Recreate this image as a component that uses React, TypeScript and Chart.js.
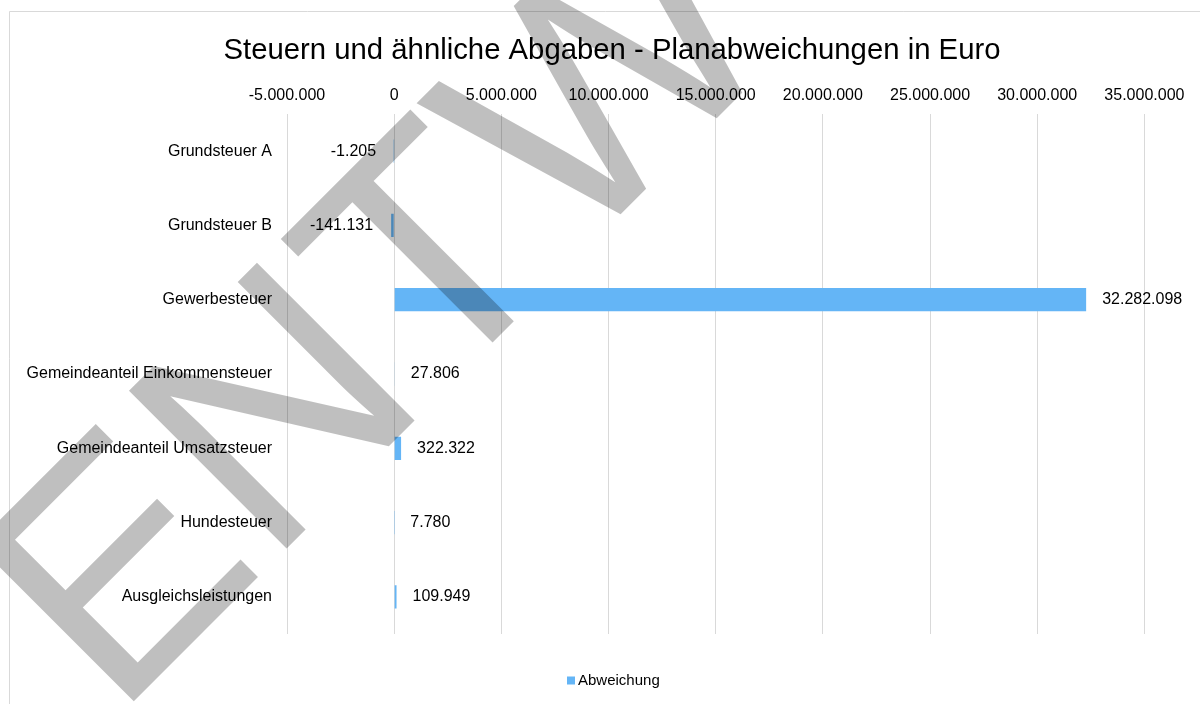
import React, { useEffect, useRef } from "react";
import { Chart, registerables } from "chart.js";

Chart.register(...registerables);

const chartTitle = "Steuern und ähnliche Abgaben - Planabweichungen in Euro";
const categories = [
  "Grundsteuer A",
  "Grundsteuer B",
  "Gewerbesteuer",
  "Gemeindeanteil Einkommensteuer",
  "Gemeindeanteil Umsatzsteuer",
  "Hundesteuer",
  "Ausgleichsleistungen",
];
const seriesLabel = "Abweichung";
const abweichung = [-1205, -141131, 32282098, 27806, 322322, 7780, 109949];
const axisMin = -5000000;
const axisMax = 35000000;
const axisStep = 5000000;
const watermarkText = "ENTWURF";

const FONT = '"Liberation Sans", Arial, Helvetica, sans-serif';
const BAR_COLOR = "#64B5F6";

function fmt(v: number): string {
  const s = Math.abs(Math.round(v))
    .toString()
    .replace(/\B(?=(\d{3})+(?!\d))/g, ".");
  return (v < 0 ? "-" : "") + s;
}

const framePlugin = {
  id: "frame",
  beforeDraw(chart: any) {
    const ctx = chart.ctx;
    ctx.save();
    ctx.fillStyle = "#ffffff";
    ctx.fillRect(0, 0, chart.width, chart.height);
    ctx.strokeStyle = "#d9d9d9";
    ctx.lineWidth = 1;
    ctx.beginPath();
    ctx.moveTo(9.5, chart.height + 5);
    ctx.lineTo(9.5, 11.5);
    ctx.lineTo(chart.width + 5, 11.5);
    ctx.stroke();
    ctx.restore();
  },
};

const titlePlugin = {
  id: "customTitle",
  afterDraw(chart: any) {
    const ctx = chart.ctx;
    ctx.save();
    ctx.font = `29.3px ${FONT}`;
    ctx.fillStyle = "#000000";
    ctx.textAlign = "center";
    ctx.textBaseline = "alphabetic";
    ctx.fillText(chartTitle, 612, 58.5);
    ctx.restore();
  },
};

const dataLabelPlugin = {
  id: "dataLabels",
  afterDatasetsDraw(chart: any) {
    const ctx = chart.ctx;
    const meta = chart.getDatasetMeta(0);
    const values = chart.data.datasets[0].data as number[];
    ctx.save();
    ctx.font = `16px ${FONT}`;
    ctx.fillStyle = "#000000";
    ctx.textBaseline = "middle";
    meta.data.forEach((bar: any, i: number) => {
      const v = values[i];
      if (v < 0) {
        ctx.textAlign = "right";
        ctx.fillText(fmt(v), bar.x - 18, bar.y);
      } else {
        ctx.textAlign = "left";
        ctx.fillText(fmt(v), bar.x + 16, bar.y);
      }
    });
    ctx.restore();
  },
};

const legendPlugin = {
  id: "customLegend",
  afterDraw(chart: any) {
    const ctx = chart.ctx;
    const ds = chart.data.datasets[0];
    ctx.save();
    ctx.fillStyle = ds.backgroundColor;
    ctx.fillRect(567, 676.5, 8, 8);
    ctx.font = `15px ${FONT}`;
    ctx.fillStyle = "#000000";
    ctx.textBaseline = "middle";
    ctx.textAlign = "left";
    ctx.fillText(ds.label, 578, 680.5);
    ctx.restore();
  },
};

const watermarkPlugin = {
  id: "watermark",
  afterDraw(chart: any) {
    const ctx = chart.ctx;
    ctx.save();
    ctx.translate(115, 720);
    ctx.rotate(-Math.PI / 4);
    ctx.font = `324px ${FONT}`;
    ctx.fillStyle = "rgba(0,0,0,0.25)";
    ctx.textBaseline = "alphabetic";
    ctx.textAlign = "left";
    ctx.fillText(watermarkText, 0, 0);
    ctx.restore();
  },
};

export default function App() {
  const canvasRef = useRef<HTMLCanvasElement | null>(null);

  useEffect(() => {
    const canvas = canvasRef.current;
    if (!canvas) return;
    const chart = new Chart(canvas, {
      type: "bar",
      data: {
        labels: categories,
        datasets: [
          {
            label: seriesLabel,
            data: abweichung,
            backgroundColor: BAR_COLOR,
            borderWidth: 0,
            categoryPercentage: 1,
            barPercentage: 0.313,
          },
        ],
      },
      options: {
        indexAxis: "y",
        responsive: false,
        animation: false,
        devicePixelRatio: 1,
        layout: {
          padding: { top: 75.6, bottom: 70, left: 0, right: 55.6 },
        },
        plugins: {
          legend: { display: false },
          tooltip: { enabled: false },
          title: { display: false },
        },
        scales: {
          x: {
            position: "top",
            min: axisMin,
            max: axisMax,
            grid: {
              color: "#d9d9d9",
              lineWidth: 1,
              drawTicks: false,
            },
            border: { display: false },
            ticks: {
              stepSize: axisStep,
              padding: 9,
              color: "#000000",
              font: { family: FONT, size: 16 },
              maxRotation: 0,
              autoSkip: false,
              callback: (v: any) => fmt(Number(v)),
            },
            afterFit: (scale: any) => {
              scale.height = 38.4;
            },
          },
          y: {
            grid: { display: false, drawTicks: false },
            border: { display: false },
            ticks: {
              padding: 15,
              color: "#000000",
              font: { family: FONT, size: 16 },
              autoSkip: false,
            },
            afterFit: (scale: any) => {
              scale.width = 287;
            },
          },
        },
      },
      plugins: [framePlugin, dataLabelPlugin, titlePlugin, legendPlugin, watermarkPlugin],
    });
    return () => chart.destroy();
  }, []);

  return (
    <div style={{ position: "fixed", left: 0, top: 0, width: 1200, height: 704, background: "#fff" }}>
      <canvas ref={canvasRef} width={1200} height={704} style={{ display: "block" }} />
    </div>
  );
}
